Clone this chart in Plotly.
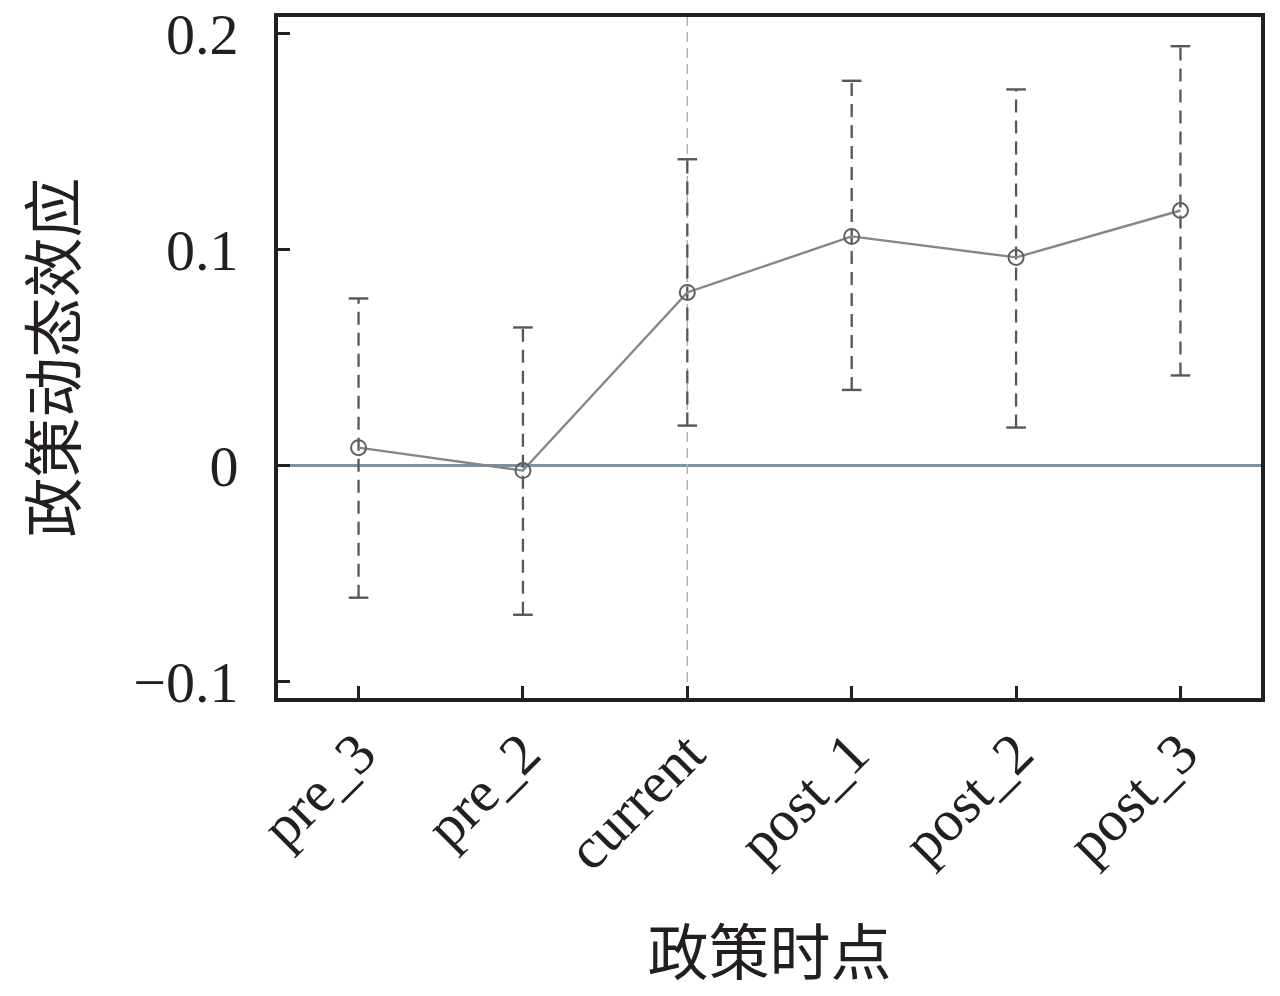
import plotly.graph_objects as go

categories = ["pre_3", "pre_2", "current", "post_1", "post_2", "post_3"]
coef = [0.0083, -0.0023, 0.0801, 0.1060, 0.0963, 0.1180]
ci_low = [-0.0611, -0.0690, 0.0185, 0.0350, 0.0176, 0.0417]
ci_high = [0.0773, 0.0639, 0.1417, 0.1780, 0.1740, 0.1940]
y_ticks = [-0.1, 0, 0.1, 0.2]
y_tick_text = ["\u22120.1", "0", "0.1", "0.2"]
event_index = 2

xs = list(range(len(categories)))

fig = go.Figure()

fig.add_hline(y=0, line=dict(color="#7893a8", width=3), layer="below")
fig.add_vline(x=event_index, line=dict(color="#9fb8b6", width=1.4, dash="10px,6px"), layer="below")

ex, ey = [], []
for x, lo, hi in zip(xs, ci_low, ci_high):
    ex += [x, x, None]
    ey += [lo, hi, None]
fig.add_trace(go.Scatter(x=ex, y=ey, mode="lines",
                         line=dict(color="#55575b", width=2.3, dash="13px,8px"),
                         hoverinfo="skip", showlegend=False))
fig.add_trace(go.Scatter(x=xs + xs, y=ci_low + ci_high, mode="markers",
                         marker=dict(symbol="line-ew", size=14,
                                     line=dict(color="#55575b", width=2.4)),
                         hoverinfo="skip", showlegend=False))
fig.add_trace(go.Scatter(x=xs, y=coef, mode="lines+markers",
                         line=dict(color="#858689", width=2.4),
                         marker=dict(symbol="circle-open", size=15,
                                     color="#5f6064", line=dict(width=2, color="#5f6064")),
                         showlegend=False))

axis_common = dict(showline=True, linecolor="#231f20", linewidth=4, mirror=True,
                   ticks="inside", ticklen=12, tickwidth=3, tickcolor="#231f20",
                   showgrid=False, zeroline=False, automargin=False,
                   ticklabeloverflow="allow",
                   tickfont=dict(family="Liberation Serif", size=58, color="#231f20"))

title_font = dict(family="Liberation Serif, Noto Sans CJK SC", color="#231f20")

fig.update_xaxes(**axis_common, range=[-0.49, 5.49], tickvals=xs, ticktext=categories,
                 tickangle=-45, ticklabelstandoff=-6,
                 title=dict(text="政策时点", standoff=75, font=dict(size=61, **title_font)))
fig.update_yaxes(**axis_common, range=[-0.1075, 0.2075], tickvals=y_ticks, ticktext=y_tick_text,
                 ticklabelstandoff=24,
                 title=dict(text="政策动态效应", standoff=38, font=dict(size=60, **title_font)))

fig.update_layout(width=1264, height=980, margin=dict(l=270, r=11, t=9, b=290),
                  plot_bgcolor="white", paper_bgcolor="white")

fig.write_html("out.html")
